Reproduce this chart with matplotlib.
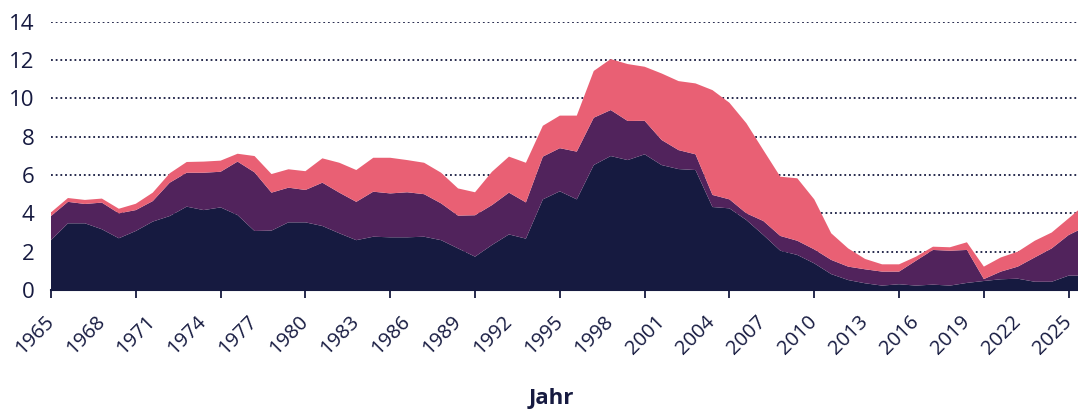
import numpy as np
import matplotlib
matplotlib.use('Agg')
import matplotlib.pyplot as plt
from matplotlib.ticker import MultipleLocator, FixedLocator

plt.rcParams['font.family'] = ['Open Sans', 'DejaVu Sans']

# Werte (gestapelt: Oberkanten der Schichten)
jahre = list(range(1965, 2027))

top_navy = [2.6, 3.48, 3.48, 3.17, 2.7, 3.08, 3.57, 3.86, 4.35, 4.17,
            4.31, 3.91, 3.08, 3.1, 3.53, 3.53, 3.34, 2.96, 2.6, 2.78,
            2.75, 2.75, 2.78, 2.6, 2.17, 1.74, 2.35, 2.9, 2.68, 4.73,
            5.15, 4.73, 6.52, 6.99, 6.78, 7.08, 6.52, 6.31, 6.26, 4.33,
            4.26, 3.65, 2.87, 2.05, 1.83, 1.39, 0.83, 0.52, 0.35, 0.23,
            0.3, 0.23, 0.28, 0.23, 0.37, 0.47, 0.56, 0.59, 0.43, 0.43,
            0.75, 0.75]

top_purple = [3.86, 4.6, 4.49, 4.56, 4.0, 4.17, 4.64, 5.6, 6.12, 6.12,
              6.17, 6.7, 6.14, 5.08, 5.34, 5.22, 5.6, 5.08, 4.6, 5.13,
              5.04, 5.1, 5.0, 4.52, 3.88, 3.9, 4.43, 5.08, 4.57, 6.96,
              7.4, 7.22, 8.99, 9.39, 8.82, 8.83, 7.83, 7.3, 7.08, 4.96,
              4.73, 4.0, 3.6, 2.82, 2.57, 2.12, 1.57, 1.22, 1.08, 0.96,
              0.96, 1.53, 2.09, 2.05, 2.09, 0.57, 0.96, 1.22, 1.7, 2.17,
              2.87, 3.3]

top_pink = [4.05, 4.8, 4.7, 4.77, 4.24, 4.5, 5.08, 6.09, 6.68, 6.7,
            6.75, 7.11, 6.99, 6.05, 6.3, 6.2, 6.87, 6.64, 6.26, 6.9,
            6.9, 6.78, 6.64, 6.12, 5.3, 5.1, 6.17, 6.96, 6.64, 8.57,
            9.1, 9.1, 11.43, 12.05, 11.79, 11.65, 11.3, 10.9, 10.78, 10.43,
            9.77, 8.7, 7.3, 5.91, 5.83, 4.73, 2.96, 2.17, 1.62, 1.34,
            1.34, 1.74, 2.26, 2.23, 2.49, 1.22, 1.7, 2.0, 2.57, 3.0,
            3.74, 4.5]

label_jahre = list(range(1965, 2026, 3))
tick_jahre = list(range(1965, 2026, 5))

navy = '#161a40'
lila = '#51235c'
rosa = '#e96074'

x = np.array(jahre)
a = np.array(top_navy)
b = np.array(top_purple) - a
c = np.array(top_pink) - np.array(top_purple)

fig = plt.figure(figsize=(10.78, 4.09), dpi=100)
ax = fig.add_axes([51 / 1078, 119 / 409, 1 - 51 / 1078, (387.3 - 119) / 409])

ax.stackplot(x, a, b, c, colors=[navy, lila, rosa], linewidth=0, zorder=2)

ax.set_xlim(1965, 2025.55)
ax.set_ylim(0, 14)
ax.yaxis.set_major_locator(MultipleLocator(2))

for yv in range(2, 15, 2):
    ax.axhline(yv, color=navy, linestyle=(0, (1, 1.6)), linewidth=1.3, zorder=1)

for s in ['top', 'right', 'left']:
    ax.spines[s].set_visible(False)
ax.spines['bottom'].set_color(navy)
ax.spines['bottom'].set_linewidth(1.5)
ax.spines['bottom'].set_zorder(3)

# Beschriftungen alle 3 Jahre, Striche alle 5 Jahre
ax.xaxis.remove_overlapping_locs = False
ax.xaxis.set_major_locator(FixedLocator(tick_jahre))
ax.xaxis.set_minor_locator(FixedLocator(label_jahre))
ax.tick_params(axis='x', which='major', length=6, width=1.3, color=navy,
               labelbottom=False)
ax.tick_params(axis='x', which='minor', length=0, pad=21, labelsize=14.5,
               labelcolor=navy)
ax.set_xticklabels([str(j) for j in label_jahre], minor=True, rotation=45,
                   ha='right', va='center', rotation_mode='anchor')

ax.tick_params(axis='y', length=0, pad=12, labelsize=16, labelcolor=navy)

fig.text(551 / 1078, 5 / 409, 'Jahr', ha='center', va='baseline',
         fontsize=16, fontweight='bold', color=navy)

fig.savefig('out.png', dpi=100)
